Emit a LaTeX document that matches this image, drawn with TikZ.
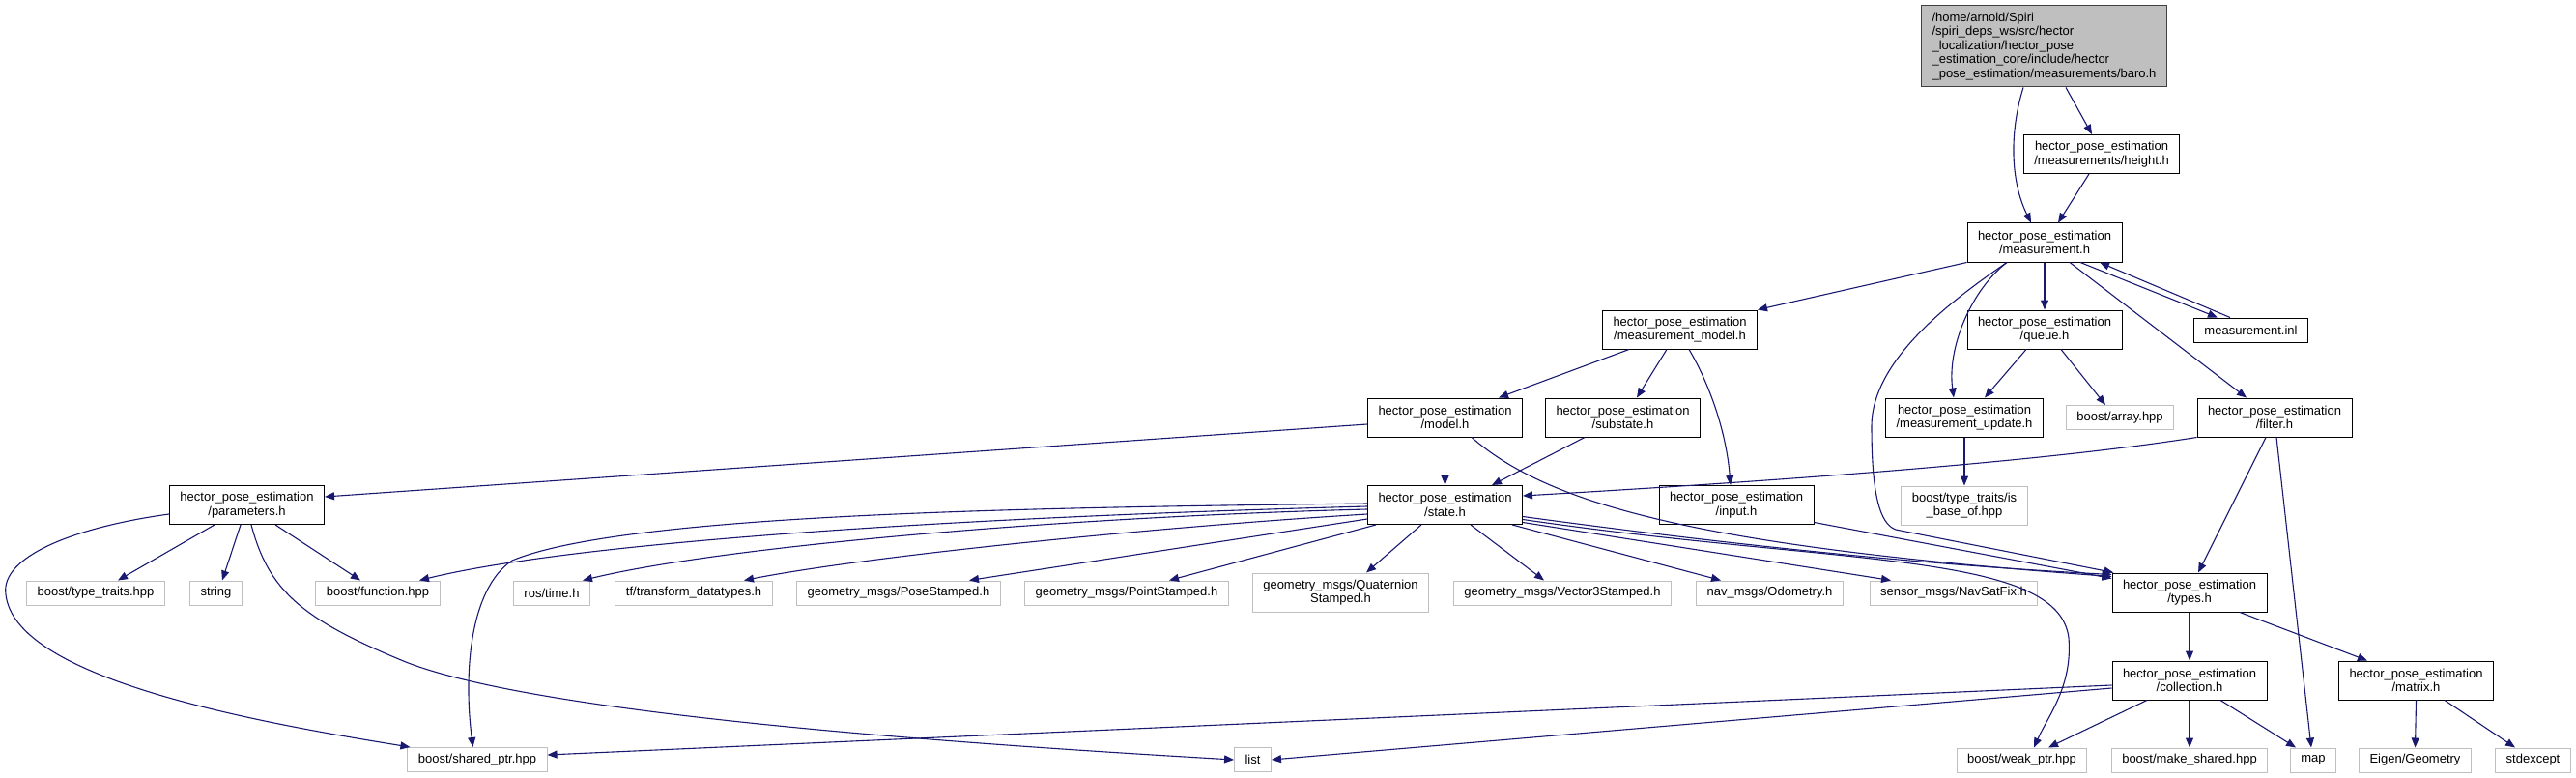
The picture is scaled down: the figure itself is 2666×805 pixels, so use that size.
\documentclass[tikz,border=0pt]{standalone}
\usepackage{fontspec}
\setmainfont{Liberation Sans}
\usetikzlibrary{arrows.meta}
\definecolor{edgeblue}{RGB}{25,25,112}
\definecolor{extgray}{RGB}{191,191,191}

\begin{document}
\begin{tikzpicture}[x=1pt, y=-1pt, font=\fontsize{13}{14.5}\selectfont,
    >={Triangle[length=10pt,width=8pt]},
    doc/.style={draw=black, line width=1pt, fill=white, align=center, minimum height=40pt, inner xsep=11pt, inner ysep=1pt},
    ext/.style={draw=extgray, line width=1pt, fill=white, align=center, minimum height=25pt, inner xsep=11pt, inner ysep=1pt},
    cur/.style={draw=black!75, line width=1pt, fill=extgray, align=left, minimum height=84pt, inner xsep=11pt},
    dep/.style={->, draw=edgeblue, line width=1.1pt}]
  \useasboundingbox (0,0) rectangle (2666,805);

  \node[cur] (baro) at (2115.5,48) {/home/arnold/Spiri\\/spiri\_deps\_ws/src/hector\\\_localization/hector\_pose\\\_estimation\_core/include/hector\\\_pose\_estimation/measurements/baro.h};
  \node[doc] (height) at (2175,159.5) {hector\_pose\_estimation\\/measurements/height.h};
  \node[doc] (meas) at (2116,251) {hector\_pose\_estimation\\/measurement.h};
  \node[doc] (mmodel) at (1738.5,341) {hector\_pose\_estimation\\/measurement\_model.h};
  \node[doc] (queue) at (2116,341) {hector\_pose\_estimation\\/queue.h};
  \node[doc, minimum height=25pt] (minl) at (2329.5,341.5) {measurement.inl};
  \node[doc] (model) at (1495.5,432) {hector\_pose\_estimation\\/model.h};
  \node[doc] (substate) at (1679.5,432) {hector\_pose\_estimation\\/substate.h};
  \node[doc] (mupdate) at (2033,432) {hector\_pose\_estimation\\/measurement\_update.h};
  \node[ext] (barray) at (2194,432) {boost/array.hpp};
  \node[doc] (filter) at (2354,432) {hector\_pose\_estimation\\/filter.h};
  \node[doc] (params) at (255.5,522.5) {hector\_pose\_estimation\\/parameters.h};
  \node[doc] (state) at (1495.5,522.5) {hector\_pose\_estimation\\/state.h};
  \node[doc] (input) at (1797,522.5) {hector\_pose\_estimation\\/input.h};
  \node[ext, minimum height=40pt] (isbase) at (2033,523) {boost/type\_traits/is\\\_base\_of.hpp};
  \node[ext] (ttraits) at (99,613.5) {boost/type\_traits.hpp};
  \node[ext] (string) at (223.5,613.5) {string};
  \node[ext] (function) at (391,613.5) {boost/function.hpp};
  \node[ext] (rostime) at (571,613.5) {ros/time.h};
  \node[ext] (tfdata) at (718,613.5) {tf/transform\_datatypes.h};
  \node[ext] (pose) at (930,613.5) {geometry\_msgs/PoseStamped.h};
  \node[ext] (point) at (1166,613.5) {geometry\_msgs/PointStamped.h};
  \node[ext, minimum height=40pt] (quat) at (1387.5,613) {geometry\_msgs/Quaternion\\Stamped.h};
  \node[ext] (vector) at (1617,613.5) {geometry\_msgs/Vector3Stamped.h};
  \node[ext] (odom) at (1831.5,613.5) {nav\_msgs/Odometry.h};
  \node[ext] (navsat) at (2022,613.5) {sensor\_msgs/NavSatFix.h};
  \node[doc] (types) at (2266,613) {hector\_pose\_estimation\\/types.h};
  \node[doc] (collection) at (2266,704) {hector\_pose\_estimation\\/collection.h};
  \node[doc] (matrix) at (2500.5,704) {hector\_pose\_estimation\\/matrix.h};
  \node[ext] (sharedptr) at (494,786) {boost/shared\_ptr.hpp};
  \node[ext] (list) at (1296.5,786) {list};
  \node[ext] (weakptr) at (2092.5,786.5) {boost/weak\_ptr.hpp};
  \node[ext] (makeshared) at (2266,786.5) {boost/make\_shared.hpp};
  \node[ext] (map) at (2394,786.5) {map};
  \node[ext] (eigen) at (2499.5,786.5) {Eigen/Geometry};
  \node[ext] (stdexcept) at (2621.5,786.5) {stdexcept};

  \draw[dep] ([xshift=-21.5pt]baro.south) .. controls (2080,135) and (2080,186) .. ([xshift=-14pt]meas.north);
  \draw[dep] ([xshift=22.5pt]baro.south) -- ([xshift=-10pt]height.north);
  \draw[dep] ([xshift=-13pt]height.south) -- ([xshift=14pt]meas.north);
  \draw[dep] (meas.south west) -- (mmodel.north east);
  \draw[dep] (meas.south) -- (queue.north);
  \draw[dep] ([xshift=37pt]meas.south) -- ([xshift=-34.5pt]minl.north);
  \draw[dep] ([xshift=-21.5pt]minl.north) -- ([xshift=57pt]meas.south);
  \draw[dep] ([xshift=26pt]meas.south) -- ([xshift=-29pt]filter.north);
  \draw[dep] ([xshift=-39pt]meas.south) .. controls (2040,300) and (2015,360) .. ([xshift=-11pt]mupdate.north);
  \draw[dep] ([xshift=-39pt]meas.south) .. controls (2027,306) and (1937,370) .. (1937,441)
    .. controls (1937,510) and (1945,542) .. (1962,548) -- ([xshift=2pt]types.north west);

  \draw[dep] ([xshift=-52.5pt]mmodel.south) -- ([xshift=55.5pt]model.north);
  \draw[dep] ([xshift=-13.5pt]mmodel.south) -- ([xshift=14.5pt]substate.north);
  \draw[dep] ([xshift=9.5pt]mmodel.south) .. controls (1765,390) and (1786,440) .. ([xshift=-6pt]input.north);
  \draw[dep] ([xshift=-19pt]queue.south) -- ([xshift=21pt]mupdate.north);
  \draw[dep] ([xshift=17pt]queue.south) -- ([xshift=-15pt]barray.north);
  \draw[dep] (mupdate.south) -- (isbase.north);

  \draw[dep] ([yshift=-7pt]model.west) -- ([yshift=8.5pt]params.east);
  \draw[dep] (model.south) -- (state.north);
  \draw[dep] ([xshift=27.5pt]model.south) .. controls (1600,520) and (1750,565) .. ([yshift=-4pt]types.north west);
  \draw[dep] ([xshift=-39.5pt]substate.south) -- ([xshift=48.5pt]state.north);
  \draw[dep] (filter.south west) .. controls (2100,480) and (1800,500) .. ([yshift=9.5pt]state.east);
  \draw[dep] ([xshift=-9pt]filter.south) -- ([xshift=9pt]types.north);
  \draw[dep] ([xshift=2pt]filter.south) -- ([xshift=-2pt]map.north);
  \draw[dep] ([yshift=-18pt]input.east) -- ([yshift=-6pt]types.north west);

  \draw[dep] ([yshift=1.5pt]state.west) .. controls (1100,525) and (650,530) .. (530,580)
    .. controls (485,610) and (480,700) .. ([xshift=-4.5pt]sharedptr.north);
  \draw[dep] ([yshift=-1.5pt]state.west) .. controls (1000,535) and (600,560) .. ([xshift=43pt]function.north);
  \draw[dep] ([yshift=-4.5pt]state.west) .. controls (1100,535) and (750,565) .. ([xshift=32pt]rostime.north);
  \draw[dep] ([yshift=-9.5pt]state.west) .. controls (1200,545) and (900,575) .. ([xshift=52pt]tfdata.north);
  \draw[dep] ([yshift=-14.5pt]state.west) -- ([xshift=73pt]pose.north);
  \draw[dep] ([xshift=-71.5pt]state.south) -- ([xshift=44pt]point.north);
  \draw[dep] ([xshift=-24.5pt]state.south) -- ([xshift=26.5pt]quat.north);
  \draw[dep] ([xshift=26.5pt]state.south) -- ([xshift=-19pt]vector.north);
  \draw[dep] ([xshift=69.5pt]state.south) -- ([xshift=-50.5pt]odom.north);
  \draw[dep] ([yshift=-18pt]state.east) -- ([xshift=-65pt]navsat.north);
  \draw[dep] ([yshift=-12pt]state.east) .. controls (1800,565) and (2000,585) .. ([yshift=-2pt]types.north west);
  \draw[dep] ([yshift=-15pt]state.east) .. controls (1900,585) and (2130,570) .. (2141,660)
    .. controls (2145,710) and (2120,740) .. ([xshift=12.5pt]weakptr.north);

  \draw[dep] ([xshift=-33.5pt]params.south) -- ([xshift=23pt]ttraits.north);
  \draw[dep] ([xshift=-6.5pt]params.south) -- ([xshift=6.5pt]string.north);
  \draw[dep] ([xshift=29.5pt]params.south) -- ([xshift=-18pt]function.north);
  \draw[dep] ([xshift=4.5pt]params.south) .. controls (278,610) and (310,640) .. (420,685)
    .. controls (560,740) and (1000,770) .. (list.west);
  \draw[dep] ([yshift=-9.5pt]params.west) .. controls (80,545) and (0,575) .. (6,615)
    .. controls (15,700) and (250,745) .. ([xshift=3pt]sharedptr.north west);

  \draw[dep] (types.south) -- (collection.north);
  \draw[dep] ([xshift=52pt]types.south) -- ([xshift=-50.5pt]matrix.north);
  \draw[dep] ([yshift=-5pt]collection.west) -- ([yshift=5pt]sharedptr.east);
  \draw[dep] ([yshift=-8pt]collection.west) -- (list.east);
  \draw[dep] ([xshift=-44pt]collection.south) -- ([xshift=27.5pt]weakptr.north);
  \draw[dep] (collection.south) -- (makeshared.north);
  \draw[dep] ([xshift=32pt]collection.south) -- ([xshift=-18pt]map.north);
  \draw[dep] (matrix.south) -- (eigen.north);
  \draw[dep] ([xshift=29.5pt]matrix.south) -- ([xshift=-18.5pt]stdexcept.north);
\end{tikzpicture}
\end{document}
